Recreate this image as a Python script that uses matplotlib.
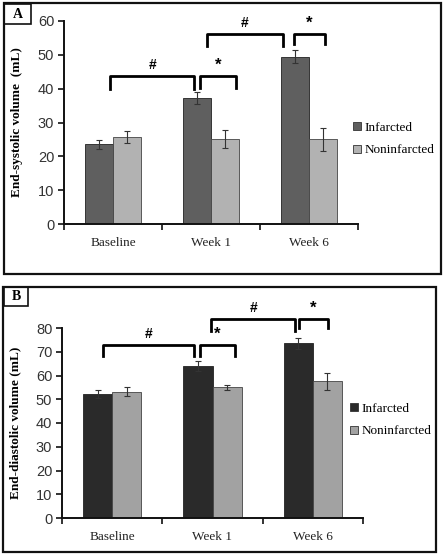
import numpy as np
import matplotlib.pyplot as plt
from matplotlib.patches import Rectangle
from matplotlib.lines import Line2D

groups = ['Baseline', 'Week 1', 'Week 6']
series = ['Infarcted', 'Noninfarcted']

# panel A: end-systolic volume
esv_inf = [23.5, 37.2, 49.5]
esv_inf_err = [1.2, 1.8, 1.9]
esv_non = [25.6, 25.1, 25.1]
esv_non_err = [1.8, 2.6, 3.4]

# panel B: end-diastolic volume
edv_inf = [52.2, 64.0, 73.5]
edv_inf_err = [1.8, 2.1, 2.5]
edv_non = [53.2, 55.0, 57.5]
edv_non_err = [1.8, 0.9, 3.5]

# significance brackets: (x0, x1, top, leg bottom, label)
brackets_a = [(-0.03, 0.83, 43.7, 39.9, '#'), (0.89, 1.26, 43.7, 40.3, '*'),
              (0.96, 1.73, 56.2, 52.6, '#'), (1.85, 2.16, 56.2, 53.3, '*')]
brackets_b = [(-0.09, 0.82, 72.8, 68.2, '#'), (0.88, 1.22, 72.8, 68.2, '*'),
              (0.99, 1.82, 83.6, 78.9, '#'), (1.86, 2.15, 83.6, 80.0, '*')]

W, H = 444, 555
fig = plt.figure(figsize=(W / 100, H / 100), dpi=100)
fig.patch.set_facecolor('white')

serif = ['Liberation Serif', 'DejaVu Serif']
sans = ['Liberation Sans', 'DejaVu Sans']


def px(x0, y0, x1, y1):
    return [x0 / W, 1 - y1 / H, (x1 - x0) / W, (y1 - y0) / H]


def panel(rect, inf, inf_err, non, non_err, c_inf, c_non, ylim, ystep,
          ylabel, ylab_x, brackets, letter, border, box, leg_xy):
    # frame around the panel
    bx0, by0, bx1, by1 = border
    fig.patches.append(Rectangle((bx0 / W, 1 - by1 / H), (bx1 - bx0) / W, (by1 - by0) / H,
                                 transform=fig.transFigure, fill=False,
                                 edgecolor='#111111', lw=1.6))
    lx0, ly0, lx1, ly1 = box
    fig.patches.append(Rectangle((lx0 / W, 1 - ly1 / H), (lx1 - lx0) / W, (ly1 - ly0) / H,
                                 transform=fig.transFigure, fill=False,
                                 edgecolor='#111111', lw=1.2))
    fig.text((lx0 + lx1) / 2 / W, 1 - (ly0 + ly1) / 2 / H, letter, family=serif,
             weight='bold', fontsize=10, ha='center', va='center')

    ax = fig.add_axes(rect)
    x = np.arange(len(groups))
    w = 0.29
    ek = dict(ecolor='#333333', elinewidth=0.8, capsize=2.5, capthick=0.8)
    ax.bar(x - w / 2, inf, w, yerr=inf_err, color=c_inf, edgecolor='#222222',
           lw=0.6, error_kw=ek)
    ax.bar(x + w / 2, non, w, yerr=non_err, color=c_non, edgecolor='#444444',
           lw=0.6, error_kw=ek)
    ax.set_xlim(-0.5, 2.5)
    ax.set_ylim(*ylim)
    ax.set_yticks(np.arange(ylim[0], ylim[1] + 1, ystep))
    ax.set_xticks([-0.5, 0.5, 1.5, 2.5])
    ax.set_xticklabels([])
    for i, g in enumerate(groups):
        ax.annotate(g, (i, 0), xycoords=('data', 'axes fraction'),
                    xytext=(0, -19), textcoords='offset pixels', family=serif,
                    fontsize=9.5, ha='center', va='center', color='#222222')
    ax.tick_params(axis='x', direction='out', length=4, width=1.2, color='#111111')
    ax.tick_params(axis='y', direction='out', length=4, width=1.2, color='#111111',
                   labelsize=10.5, labelcolor='#333333', pad=3)
    for lab in ax.get_yticklabels():
        lab.set_family(sans)
    for s in ['top', 'right']:
        ax.spines[s].set_visible(False)
    for s in ['left', 'bottom']:
        ax.spines[s].set_linewidth(1.4)
        ax.spines[s].set_color('#111111')
    ax.set_ylabel(ylabel, family=serif, weight='bold', fontsize=9.5, va='center')
    ax.yaxis.set_label_coords(ylab_x, 0.5)

    for x0, x1, top, bot, lab in brackets:
        ax.plot([x0, x0, x1, x1], [bot, top, top, bot], color='black', lw=2,
                solid_joinstyle='round', clip_on=False)
        ax.annotate(lab, ((x0 + x1) / 2, top), xytext=(0, 11),
                    textcoords='offset pixels', fontsize=12 if lab == '*' else 10,
                    weight='bold', ha='center', va='center', family=sans,
                    annotation_clip=False)

    handles = [Line2D([], [], marker='s', ls='', color=c, mec='#333333', mew=0.6,
                      markersize=6) for c in (c_inf, c_non)]
    ax.legend(handles, series, loc='center left',
              bbox_to_anchor=(leg_xy[0] / W, 1 - leg_xy[1] / H),
              bbox_transform=fig.transFigure, frameon=False,
              prop={'family': serif, 'size': 9.5}, handlelength=0.6,
              handletextpad=0.3, labelspacing=0.75, borderaxespad=0, borderpad=0)
    return ax


panel(px(64, 21, 358, 224), esv_inf, esv_inf_err, esv_non, esv_non_err,
      '#5f5f5f', '#b2b2b2', (0, 60), 10, 'End-systolic volume  (mL)', -0.16,
      brackets_a, 'A', (4, 3, 441, 274), (4, 4, 31, 24), (353, 139))

panel(px(62, 328, 363, 518), edv_inf, edv_inf_err, edv_non, edv_non_err,
      '#2a2a2a', '#a2a2a2', (0, 80), 10, 'End-diastolic volume (mL)', -0.156,
      brackets_b, 'B', (3, 287, 436, 552), (4, 287, 28, 306), (350, 420))

fig.savefig('out.png', dpi=100, facecolor='white')
